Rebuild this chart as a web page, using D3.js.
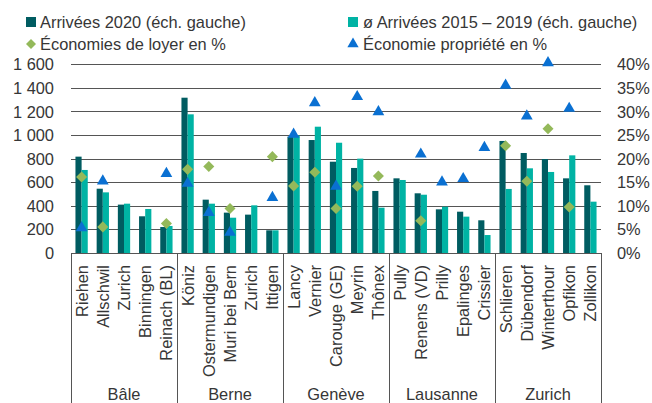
<!DOCTYPE html>
<html><head><meta charset="utf-8">
<script src="https://cdn.jsdelivr.net/npm/d3@7"></script>
<style>body{margin:0;background:#fff}svg{display:block;font-family:"Liberation Sans",Arial,sans-serif}</style>
</head><body><svg id="c" width="652" height="403"></svg>
<script>
const groups = ["Bâle","Berne","Genève","Lausanne","Zurich"];
const communes = ["Riehen","Allschwil","Zurich","Binningen","Reinach (BL)",
  "Köniz","Ostermundigen","Muri bei Bern","Zurich","Ittigen",
  "Lancy","Vernier","Carouge (GE)","Meyrin","Thônex",
  "Pully","Renens (VD)","Prilly","Epalinges","Crissier",
  "Schlieren","Dübendorf","Winterthour","Opfikon","Zollikon"];
const communeGroup = [0,0,0,0,0,1,1,1,1,1,2,2,2,2,2,3,3,3,3,3,4,4,4,4,4];
const arrivees2020 = [820,548,413,314,223, 1320,455,345,328,195, 990,961,777,724,529, 636,509,373,353,280, 953,851,800,636,577];
const arrivees1519 = [707,517,421,376,232, 1179,421,302,407,195, 1000,1074,938,803,387, 622,497,395,311,155, 546,721,690,831,438];
const ecoLoyer = [16.2,5.6,null,null,6.3, 17.8,18.4,9.5,null,20.5, 14.3,17.2,9.5,14.2,16.4, null,6.9,null,null,null, 22.8,15.3,26.4,9.8,null];
const ecoPropriete = [5.1,15.0,null,null,16.6, 14.5,8.3,4.1,null,11.5, 24.9,31.6,13.9,32.9,29.7, null,20.7,14.8,15.5,22.1, 35.3,28.8,40.1,30.4,null];
const leftTicks = [0,200,400,600,800,1000,1200,1400,1600];
const rightTicks = [0,0.05,0.10,0.15,0.20,0.25,0.30,0.35,0.40];
const seriesNames = ["Arrivées 2020 (éch. gauche)","ø Arrivées 2015 – 2019 (éch. gauche)","Économies de loyer en %","Économie propriété en %"];

const C = {dark:"#005c61", light:"#00b3a4", diamond:"#94b95a", tri:"#0a70d2", text:"#363636", grid:"#555"};
const FS = 16.4;
const svg = d3.select("#c");
const L = 71, R = 601, T = 64.7, B = 253.3;
const idx = communes.map((d,i)=>i);
const x = d3.scaleBand().domain(idx).range([L,R]).paddingInner(0.42).paddingOuter(0.21);
const x1 = d3.scaleBand().domain([0,1]).range([0,x.bandwidth()]);
const yL = d3.scaleLinear().domain([0,1600]).range([B,T]);
const yR = d3.scaleLinear().domain([0,0.40]).range([B,T]);
const loc = d3.formatLocale({decimal:".",thousands:"\u00a0",grouping:[3],currency:["",""]});

// gridlines
svg.append("g").selectAll("line").data(leftTicks).join("line")
  .attr("x1",L).attr("x2",R).attr("y1",d=>yL(d)).attr("y2",d=>yL(d))
  .attr("stroke",C.grid).attr("stroke-width",1).attr("shape-rendering","crispEdges");

// bars
const bars = svg.append("g");
bars.selectAll("rect.a").data(idx).join("rect").attr("class","a")
  .attr("x",i=>x(i)+x1(0)).attr("width",x1.bandwidth())
  .attr("y",i=>yL(arrivees2020[i])).attr("height",i=>B-yL(arrivees2020[i])).attr("fill",C.dark);
bars.selectAll("rect.b").data(idx).join("rect").attr("class","b")
  .attr("x",i=>x(i)+x1(1)).attr("width",x1.bandwidth())
  .attr("y",i=>yL(arrivees1519[i])).attr("height",i=>B-yL(arrivees1519[i])).attr("fill",C.light);

// baseline
svg.append("line").attr("x1",L).attr("x2",R).attr("y1",B).attr("y2",B).attr("stroke",C.grid).attr("shape-rendering","crispEdges");

// markers
const diamond = d3.symbol(d3.symbolSquare, 61);
const tri = d3.symbol(d3.symbolTriangle, 60);
const cx = i => x(i)+x.bandwidth()/2;
svg.append("g").selectAll("path").data(idx.filter(i=>ecoLoyer[i]!=null)).join("path")
  .attr("d",diamond).attr("fill",C.diamond)
  .attr("transform",i=>`translate(${cx(i)},${yR(ecoLoyer[i]/100)}) rotate(45)`);
svg.append("g").selectAll("path").data(idx.filter(i=>ecoPropriete[i]!=null)).join("path")
  .attr("d",tri).attr("fill",C.tri)
  .attr("transform",i=>`translate(${cx(i)},${yR(ecoPropriete[i]/100)-1.5})`);

// axes
const axL = svg.append("g").attr("transform",`translate(${L},0)`)
  .call(d3.axisLeft(yL).tickValues(leftTicks).tickSize(0).tickPadding(17).tickFormat(loc.format(",")));
const axR = svg.append("g").attr("transform",`translate(${R},0)`)
  .call(d3.axisRight(yR).tickValues(rightTicks).tickSize(0).tickPadding(16).tickFormat(d3.format(".0%")));
[axL,axR].forEach(a=>{a.select(".domain").remove();a.selectAll("text").attr("font-size",FS).attr("fill",C.text).attr("font-family","Liberation Sans, Arial, sans-serif");});

// category labels
svg.append("g").selectAll("text").data(idx).join("text")
  .attr("transform",i=>`translate(${cx(i)},265) rotate(-90)`)
  .attr("text-anchor","end").attr("dy","0.36em").attr("font-size",FS).attr("fill",C.text)
  .text(i=>communes[i]);

// group separators and labels
const gStart = groups.map((g,k)=>idx.find(i=>communeGroup[i]===k));
const step = x.step();
const edges = gStart.map(i=>x(i)-(step-x.bandwidth())/2).concat([R]);
svg.append("g").selectAll("line").data(edges).join("line")
  .attr("x1",d=>d).attr("x2",d=>d).attr("y1",B).attr("y2",403)
  .attr("stroke",C.grid).attr("shape-rendering","crispEdges");
svg.append("g").selectAll("text").data(groups).join("text")
  .attr("x",(g,k)=>(edges[k]+edges[k+1])/2).attr("y",400)
  .attr("text-anchor","middle").attr("font-size",FS).attr("fill",C.text).text(d=>d);

// legend
const lg = svg.append("g").attr("font-size",FS).attr("fill",C.text);
lg.append("rect").attr("x",26).attr("y",17).attr("width",10).attr("height",10).attr("fill",C.dark);
lg.append("text").attr("x",40).attr("y",27.5).text(seriesNames[0]);
lg.append("rect").attr("x",348).attr("y",17).attr("width",10).attr("height",10).attr("fill",C.light);
lg.append("text").attr("x",363).attr("y",27.5).text(seriesNames[1]);
lg.append("path").attr("d",d3.symbol(d3.symbolSquare,50)).attr("fill",C.diamond).attr("transform","translate(31,44) rotate(45)");
lg.append("text").attr("x",40).attr("y",50).text(seriesNames[2]);
lg.append("path").attr("d",d3.symbol(d3.symbolTriangle,55)).attr("fill",C.tri).attr("transform","translate(353,44)");
lg.append("text").attr("x",363).attr("y",50).text(seriesNames[3]);
</script></body></html>
